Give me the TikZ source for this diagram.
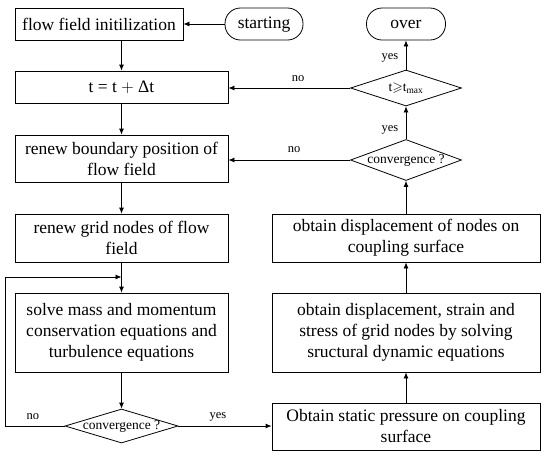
\documentclass[tikz,border=0pt]{standalone}
\usepackage{amssymb}
\usepackage{fontspec}
\setmainfont{Liberation Serif}
\usetikzlibrary{shapes.geometric,arrows.meta}
\begin{document}
\begin{tikzpicture}[x=1pt,y=-1pt,
  every path/.style={line width=0.8pt},
  arr/.style={-{Latex[length=6pt,width=5pt]}},
  procbox/.style={draw,fill=white,inner sep=0pt,align=center,font=\fontsize{17.5}{21}\selectfont},
  termbox/.style={draw,fill=white,inner sep=0pt,rounded corners=15.5pt,text height=12pt,text depth=4pt,font=\fontsize{17.5}{21}\selectfont},
  decide/.style={draw,fill=white,shape=diamond,aspect=3,inner sep=0pt,text height=7pt,text depth=1pt,font=\fontsize{13.5}{15}\selectfont},
  lbl/.style={font=\fontsize{12.5}{14}\selectfont,inner sep=1pt}]
\useasboundingbox (0,0) rectangle (550,456);
\fill[white] (0,0) rectangle (550,456);

\node[procbox,minimum width=168pt,minimum height=32pt] (init) at (99,24) {flow field initilization};
\node[termbox,minimum width=78pt,minimum height=32pt] (start) at (264,24) {starting};
\node[termbox,minimum width=79pt,minimum height=32pt] (over) at (406,24) {over};
\node[procbox,minimum width=213pt,minimum height=32pt] (tstep) at (121.5,87) {t = t $+$ Δt};
\node[decide,minimum width=111pt,minimum height=36pt] (tmax) at (406,88) {t$\geqslant$t\textsubscript{max}};
\node[procbox,minimum width=213pt,minimum height=47pt] (bound) at (121.5,158.5) {renew boundary position of\\flow field};
\node[decide,minimum width=111pt,minimum height=41pt] (conv1) at (406,160) {convergence ?};
\node[procbox,minimum width=213pt,minimum height=48pt] (grid) at (121.5,238) {renew grid nodes of flow\\field};
\node[procbox,minimum width=268pt,minimum height=48pt] (dispn) at (406,238) {obtain displacement of nodes on\\coupling surface};
\node[procbox,minimum width=213pt,minimum height=79pt] (solve) at (121.5,332.5) {solve mass and momentum\\conservation equations and\\turbulence equations};
\node[procbox,minimum width=268pt,minimum height=79pt] (strain) at (406,332.5) {obtain displacement, strain and\\stress of grid nodes by solving\\sructural dynamic equations};
\node[decide,minimum width=113pt,minimum height=34pt] (conv2) at (121.5,426) {convergence ?};
\node[procbox,minimum width=268pt,minimum height=47pt] (static) at (406,426.5) {Obtain static pressure on coupling\\surface};

\coordinate (join) at (121.5,277);
\coordinate (loopa) at (5,426);
\coordinate (loopb) at (5,277);

\draw[arr] (start.west) -- (init.east);
\draw[arr] (tstep.north |- init.south) -- (tstep.north);
\draw[arr] (tstep.south) -- (bound.north);
\draw[arr] (bound.south) -- (grid.north);
\draw[arr] (grid.south) -- (solve.north);
\draw[arr] (conv2.west) -- (loopa) -- (loopb) -- (join);
\draw[arr] (solve.south) -- (conv2.north);
\draw[arr] (conv2.east) -- (static.west |- conv2.east);
\draw[arr] (static.north) -- (strain.south);
\draw[arr] (strain.north) -- (dispn.south);
\draw[arr] (dispn.north) -- (conv1.south);
\draw[arr] (conv1.north) -- (tmax.south);
\draw[arr] (conv1.west) -- (bound.east |- conv1.west);
\draw[arr] (tmax.west) -- (tstep.east |- tmax.west);
\draw[arr] (tmax.north) -- (over.south);

\node[lbl] (l1) at (298,79) {no};
\node[lbl] (l2) at (390,58) {yes};
\node[lbl] (l3) at (294,150) {no};
\node[lbl] (l4) at (390,130) {yes};
\node[lbl] (l5) at (33,417) {no};
\node[lbl] (l6) at (218,417) {yes};
\end{tikzpicture}
\end{document}
